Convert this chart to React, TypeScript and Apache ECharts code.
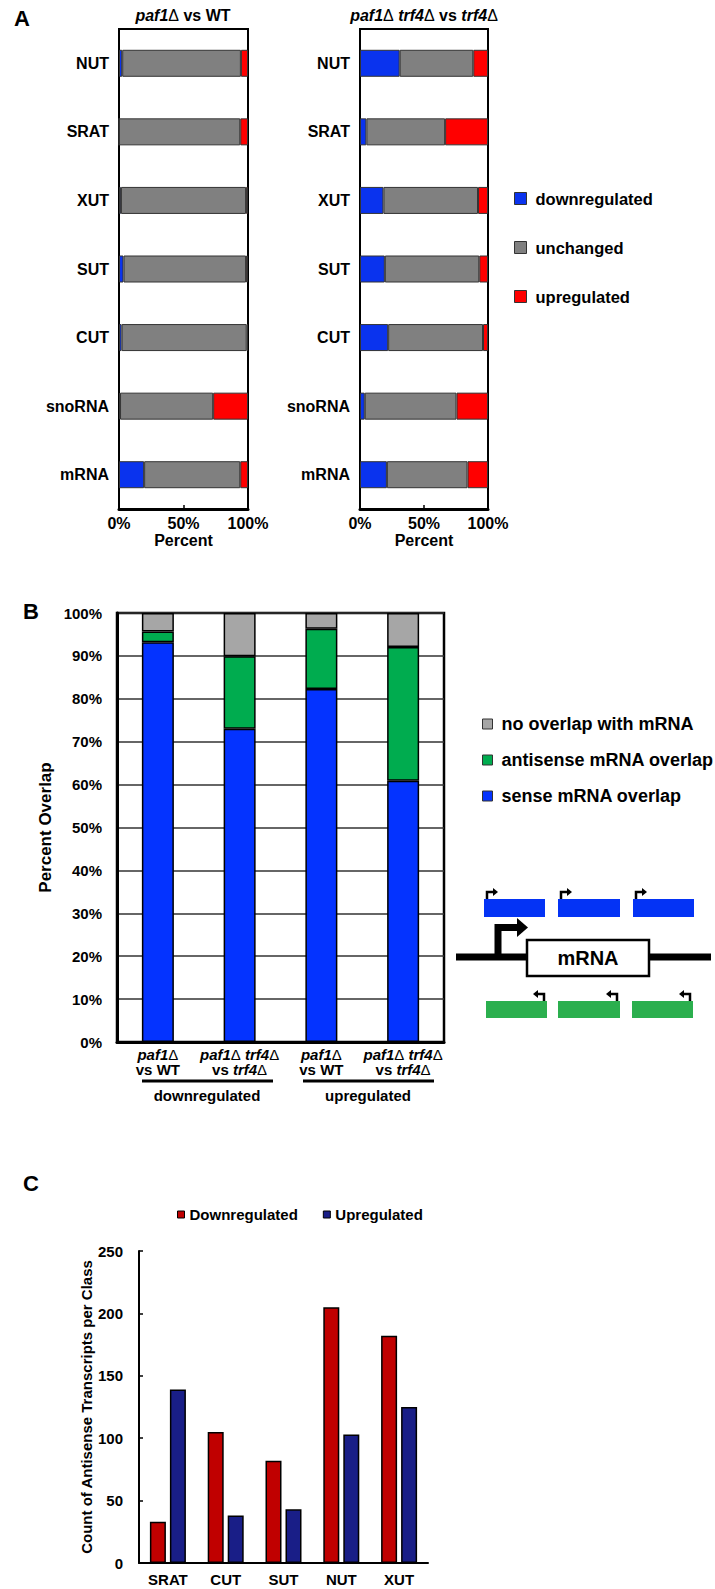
import React, { useEffect, useRef } from 'react';
import * as echarts from 'echarts';

const FONT = "'Liberation Sans', Arial, Helvetica, sans-serif";

// ---------- Panel A data (percent of transcripts) ----------
const catsA = ['NUT', 'SRAT', 'XUT', 'SUT', 'CUT', 'snoRNA', 'mRNA'];
const aLeftDown = [2.5, 0, 1.5, 3.5, 2, 0.8, 19.5];
const aLeftUnch = [92, 94, 97, 95, 97, 72.2, 74.5];
const aLeftUp = [5.5, 6, 1.5, 1.5, 1, 27, 6];
const aRightDown = [31, 5, 18.3, 19.4, 22, 3.7, 21];
const aRightUnch = [57.5, 61.5, 73.9, 73.8, 74.1, 71.7, 63];
const aRightUp = [11.5, 33.5, 7.8, 6.8, 3.9, 24.6, 16];
const aSeriesNames = ['downregulated', 'unchanged', 'upregulated'];

// ---------- Panel B data (percent overlap) ----------
const catsB = ['down-paf1', 'down-paf1trf4', 'up-paf1', 'up-paf1trf4'];
const bLine1 = ['paf1Δ', 'paf1Δ trf4Δ', 'paf1Δ', 'paf1Δ trf4Δ'];
const bLine2 = ['vs WT', 'vs trf4Δ', 'vs WT', 'vs trf4Δ'];
const bSense = [93.2, 73.0, 82.3, 60.9];
const bAntisense = [2.5, 16.9, 14.0, 31.2];
const bNone = [4.3, 10.1, 3.7, 7.9];
const bSeriesNames = ['no overlap with mRNA', 'antisense mRNA overlap', 'sense mRNA overlap'];
const bGroups = ['downregulated', 'upregulated'];

// ---------- Panel C data (counts) ----------
const catsC = ['SRAT', 'CUT', 'SUT', 'NUT', 'XUT'];
const cDown = [33, 105, 82, 205, 182];
const cUp = [139, 38, 43, 103, 125];
const cSeriesNames = ['Downregulated', 'Upregulated'];

const COL = {
  aBlue: '#0A33EE',
  aGray: '#808080',
  aRed: '#FF0000',
  bBlue: '#0433FF',
  bGreen: '#00AC4F',
  bGray: '#A6A6A6',
  cRed: '#C00000',
  cBlue: '#191E87',
  dBlue: '#0433F5',
  dGreen: '#2BAF4E',
};

const ital = (s: string) => s.replace(/(paf1|trf4)Δ/g, '{i|$1}{d|Δ}');

function buildOption() {
  const boldText = { fontFamily: FONT, fontWeight: 'bold' as const, color: '#000' };
  const richStyles = (size: number, lh?: number) => ({
    i: { fontStyle: 'italic', fontWeight: 'bold', fontSize: size, lineHeight: lh, fontFamily: FONT, color: '#000', fill: '#000' },
    d: { fontStyle: 'normal', fontWeight: 'normal', fontSize: size, lineHeight: lh, fontFamily: FONT, color: '#000', fill: '#000' },
  });

  const aXAxis = (gridIndex: number) => ({
    type: 'value',
    gridIndex,
    min: 0,
    max: 100,
    interval: 50,
    axisLabel: { ...boldText, fontSize: 16, margin: 6, formatter: '{value}%' },
    axisLine: { show: true, lineStyle: { color: '#000', width: 3 } },
    axisTick: { show: true, inside: true, length: 4, lineStyle: { color: '#000', width: 1.5 } },
    splitLine: { show: false },
    name: 'Percent',
    nameLocation: 'middle',
    nameGap: 23,
    nameTextStyle: { ...boldText, fontSize: 16 },
  });
  const aYAxis = (gridIndex: number) => ({
    type: 'category',
    gridIndex,
    data: catsA,
    inverse: true,
    axisLabel: { ...boldText, fontSize: 16, margin: 10, interval: 0 },
    axisLine: { show: true, lineStyle: { color: '#000', width: 2 } },
    axisTick: { show: false },
    splitLine: { show: false },
  });
  const aColors = [COL.aBlue, COL.aGray, COL.aRed];
  const aSeries = (gi: number, arrs: number[][]) =>
    arrs.map((d, k) => ({
      type: 'bar',
      name: aSeriesNames[k],
      xAxisIndex: gi,
      yAxisIndex: gi,
      stack: 'a' + gi,
      data: d,
      barWidth: 27,
      itemStyle: { color: aColors[k], borderColor: '#333', borderWidth: 1 },
    }));

  const bColors = [COL.bGray, COL.bGreen, COL.bBlue];
  const bData = [bNone, bAntisense, bSense];
  const bOrder = [2, 1, 0];
  const bSeries = bOrder.map((k) => ({
    type: 'bar',
    name: bSeriesNames[k],
    xAxisIndex: 2,
    yAxisIndex: 2,
    stack: 'b',
    data: bData[k],
    barWidth: 32,
    itemStyle: { color: bColors[k], borderColor: '#000', borderWidth: 1.5 },
  }));

  const cSeries = [cDown, cUp].map((d, k) => ({
    type: 'bar',
    name: cSeriesNames[k],
    xAxisIndex: 3,
    yAxisIndex: 3,
    data: d,
    barWidth: 16,
    barGap: '25%',
    itemStyle: { color: k === 0 ? COL.cRed : COL.cBlue, borderColor: '#000', borderWidth: 1.5 },
  }));

  const txt = (text: string, x: number, y: number, size: number, align = 'center', rich?: any) => ({
    type: 'text',
    x,
    y,
    style: {
      text,
      fontFamily: FONT,
      fontWeight: 'bold',
      fontSize: size,
      fill: '#000',
      textAlign: align,
      textVerticalAlign: 'middle',
      align,
      verticalAlign: 'middle',
      rich,
    },
  });

  const blueRects = [
    [484, 61],
    [558, 62],
    [633, 61],
  ];
  const greenRects = [
    [486, 61],
    [558, 62],
    [632, 61],
  ];
  const blueTop = 899;
  const greenTop = 1001;
  const diagram: any[] = [];
  blueRects.forEach(([x0, w]) => {
    diagram.push({ type: 'rect', shape: { x: x0, y: blueTop, width: w, height: 18 }, style: { fill: COL.dBlue } });
    diagram.push({
      type: 'polyline',
      shape: { points: [[x0 + 3, blueTop], [x0 + 3, blueTop - 7], [x0 + 9, blueTop - 7]] },
      style: { stroke: '#000', lineWidth: 2.5, fill: null },
    });
    diagram.push({
      type: 'polygon',
      shape: { points: [[x0 + 9, blueTop - 11], [x0 + 14, blueTop - 7], [x0 + 9, blueTop - 3]] },
      style: { fill: '#000' },
    });
  });
  greenRects.forEach(([x0, w]) => {
    const x1 = x0 + w;
    diagram.push({ type: 'rect', shape: { x: x0, y: greenTop, width: w, height: 17 }, style: { fill: COL.dGreen } });
    diagram.push({
      type: 'polyline',
      shape: { points: [[x1 - 3, greenTop], [x1 - 3, greenTop - 7], [x1 - 9, greenTop - 7]] },
      style: { stroke: '#000', lineWidth: 2.5, fill: null },
    });
    diagram.push({
      type: 'polygon',
      shape: { points: [[x1 - 9, greenTop - 11], [x1 - 14, greenTop - 7], [x1 - 9, greenTop - 3]] },
      style: { fill: '#000' },
    });
  });
  // genomic line, mRNA box and promoter arrow
  diagram.push({ type: 'line', shape: { x1: 456, y1: 957, x2: 711, y2: 957 }, style: { stroke: '#000', lineWidth: 7 } });
  diagram.push({
    type: 'polyline',
    shape: { points: [[498, 957], [498, 927.5], [518, 927.5]] },
    style: { stroke: '#000', lineWidth: 7, fill: null, lineJoin: 'miter' },
  });
  diagram.push({ type: 'polygon', shape: { points: [[517, 918], [528, 927.5], [517, 937]] }, style: { fill: '#000' } });
  diagram.push({
    type: 'rect',
    shape: { x: 527, y: 940, width: 122, height: 36 },
    style: { fill: '#fff', stroke: '#000', lineWidth: 2.5 },
  });
  diagram.push(txt('mRNA', 588, 958, 20));

  const graphic: any[] = [
    txt('A', 22, 18, 22),
    txt('B', 31, 611, 22),
    txt('C', 31, 1183, 22),
    txt(ital('paf1Δ') + ' vs WT', 183, 15, 16, 'center', richStyles(16)),
    txt(ital('paf1Δ trf4Δ') + ' vs ' + ital('trf4Δ'), 424, 15, 16, 'center', richStyles(16)),
    { type: 'line', shape: { x1: 142, y1: 1081, x2: 273, y2: 1081 }, style: { stroke: '#000', lineWidth: 3 } },
    { type: 'line', shape: { x1: 303, y1: 1081, x2: 434, y2: 1081 }, style: { stroke: '#000', lineWidth: 3 } },
    txt(bGroups[0], 207, 1095, 15),
    txt(bGroups[1], 368, 1095, 15),
    ...diagram,
  ];

  return {
    animation: false,
    textStyle: { fontFamily: FONT },
    grid: [
      { left: 119, top: 29, width: 129, height: 480, show: true, borderColor: '#000', borderWidth: 2, backgroundColor: '#fff' },
      { left: 360, top: 29, width: 128, height: 480, show: true, borderColor: '#000', borderWidth: 2, backgroundColor: '#fff' },
      { left: 117, top: 613, width: 327, height: 429, show: true, borderColor: '#000', borderWidth: 2.5, backgroundColor: '#fff' },
      { left: 139, top: 1251, width: 289, height: 312 },
    ],
    xAxis: [
      aXAxis(0),
      aXAxis(1),
      {
        type: 'category',
        gridIndex: 2,
        data: catsB,
        axisLabel: {
          ...boldText,
          fontSize: 15,
          lineHeight: 15,
          margin: 5,
          interval: 0,
          formatter: (_v: string, i: number) => ital(bLine1[i]) + '\n' + ital(bLine2[i]),
          rich: richStyles(15, 15),
        },
        axisLine: { show: true, lineStyle: { color: '#000', width: 3 } },
        axisTick: { show: false },
      },
      {
        type: 'category',
        gridIndex: 3,
        data: catsC,
        axisLabel: { ...boldText, fontSize: 15, margin: 9, interval: 0 },
        axisLine: { show: true, lineStyle: { color: '#000', width: 2 } },
        axisTick: { show: false },
      },
    ],
    yAxis: [
      aYAxis(0),
      aYAxis(1),
      {
        type: 'value',
        gridIndex: 2,
        min: 0,
        max: 100,
        interval: 10,
        axisLabel: { ...boldText, fontSize: 15, margin: 15, formatter: '{value}%' },
        axisLine: { show: true, lineStyle: { color: '#000', width: 3 } },
        axisTick: { show: false },
        splitLine: { show: true, lineStyle: { color: '#333', width: 1.5 } },
        name: 'Percent Overlap',
        nameLocation: 'middle',
        nameGap: 63,
        nameTextStyle: { ...boldText, fontSize: 17 },
      },
      {
        type: 'value',
        gridIndex: 3,
        min: 0,
        max: 250,
        interval: 50,
        axisLabel: { ...boldText, fontSize: 15, margin: 16 },
        axisLine: { show: true, lineStyle: { color: '#000', width: 2 } },
        axisTick: { show: true, inside: true, length: 4, lineStyle: { color: '#000', width: 1.5 } },
        splitLine: { show: false },
        name: 'Count of Antisense Transcripts per Class',
        nameLocation: 'middle',
        nameGap: 44,
        nameTextStyle: { ...boldText, fontSize: 15 },
      },
    ],
    legend: [
      {
        data: aSeriesNames,
        orient: 'vertical',
        left: 514,
        top: 190,
        padding: 0,
        itemWidth: 12,
        itemHeight: 12,
        itemGap: 32,
        selectedMode: false,
        icon: 'rect',
        itemStyle: { borderColor: '#333', borderWidth: 1 },
        textStyle: { ...boldText, fontSize: 16.5, padding: [0, 0, 0, 4] },
      },
      {
        data: bSeriesNames,
        orient: 'vertical',
        left: 482,
        top: 715,
        padding: 0,
        itemWidth: 10,
        itemHeight: 10,
        itemGap: 18,
        selectedMode: false,
        icon: 'rect',
        itemStyle: { borderColor: '#333', borderWidth: 1 },
        textStyle: { ...boldText, fontSize: 18, padding: [0, 0, 0, 4] },
      },
      {
        data: cSeriesNames,
        orient: 'horizontal',
        left: 177,
        top: 1207,
        padding: 0,
        itemWidth: 7,
        itemHeight: 7,
        itemGap: 25,
        selectedMode: false,
        icon: 'rect',
        itemStyle: { borderColor: '#000', borderWidth: 1 },
        textStyle: { ...boldText, fontSize: 15 },
      },
    ],
    series: [
      ...aSeries(0, [aLeftDown, aLeftUnch, aLeftUp]),
      ...aSeries(1, [aRightDown, aRightUnch, aRightUp]),
      ...bSeries,
      ...cSeries,
    ],
    graphic,
  };
}

export default function App() {
  const ref = useRef<HTMLDivElement>(null);
  useEffect(() => {
    document.body.style.margin = '0';
    const chart = echarts.init(ref.current as HTMLDivElement, null, { renderer: 'svg' });
    chart.setOption(buildOption() as any);
    return () => chart.dispose();
  }, []);
  return <div ref={ref} style={{ width: 715, height: 1589, background: '#fff' }} />;
}
